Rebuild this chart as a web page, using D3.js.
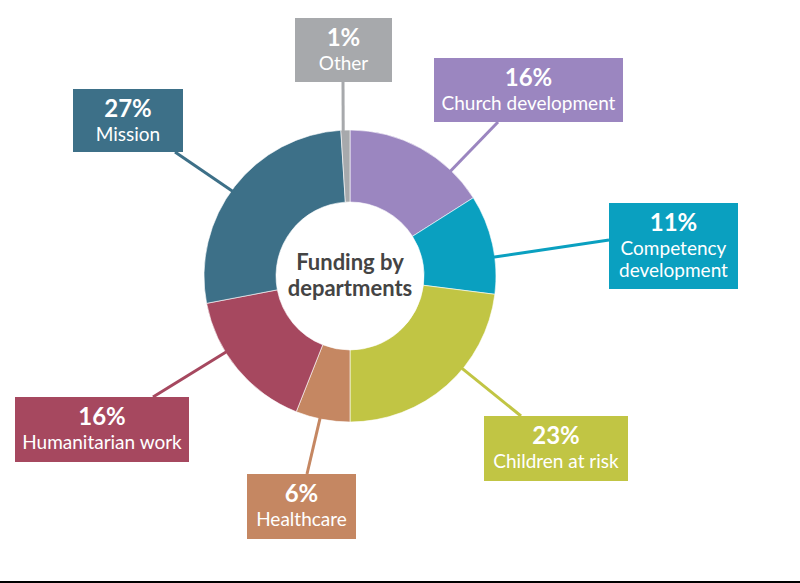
<!DOCTYPE html>
<html lang="en">
	<head>
		<meta charset="utf-8">
		<title>Funding by departments</title>
		<script type="text/javascript" src="https://d3js.org/d3.v7.min.js"></script>
		<style type="text/css">
			body { margin: 0; background: #fff; }
			text { font-family: Lato, "Open Sans", sans-serif; }
		</style>
	</head>
	<body>
		<script type="text/javascript">

			// Data, clockwise from 12 o'clock
			var categories = ["Church development", "Competency development", "Children at risk",
				"Healthcare", "Humanitarian work", "Mission", "Other"];
			var values = [16, 11, 23, 6, 16, 27, 1];
			var colorList = ["#9b86c0", "#0aa0c0", "#c1c544", "#c58762", "#a6485f", "#3d7088", "#a7a9ac"];

			// Label boxes: [x, y, w, h], where the leader hits the box, and where along the slice it starts
			var boxes = [
				[434, 58, 189, 64], [609, 203, 129, 86], [484, 416, 144, 65],
				[247, 474, 109, 65], [15, 397, 174, 65], [73, 89, 110, 63], [295, 18, 97, 64]
			];
			var hooks = [[498, 122], [609, 240], [521, 416], [307, 474], [153, 397], [175, 152], [343, 82]];
			var anchorAt = [0.76, 0.63, 0.39, 0.55, 0.64, 0.48, 0.25];

			//Width and height
			var w = 800;
			var h = 583;
			var cx = 350, cy = 276;
			var outerR = 146, innerR = 74;

			var svg = d3.select("body")
						.append("svg")
						.attr("width", w)
						.attr("height", h);

			var pie = d3.pie().sort(null).value(function(d) { return d; });
			var arcs = pie(values);

			var arc = d3.arc().innerRadius(innerR).outerRadius(outerR);

			var chart = svg.append("g").attr("transform", "translate(" + cx + "," + cy + ")");

			// Leader lines first, so the slices cover their ends
			svg.selectAll("line.leader")
				.data(arcs)
				.enter()
				.append("line")
				.attr("class", "leader")
				.attr("x1", function(d, i) {
					var a = d.startAngle + (d.endAngle - d.startAngle) * anchorAt[i];
					return cx + (outerR - 2) * Math.sin(a);
				})
				.attr("y1", function(d, i) {
					var a = d.startAngle + (d.endAngle - d.startAngle) * anchorAt[i];
					return cy - (outerR - 2) * Math.cos(a);
				})
				.attr("x2", function(d, i) { return hooks[i][0]; })
				.attr("y2", function(d, i) { return hooks[i][1]; })
				.attr("stroke", function(d, i) { return colorList[i]; })
				.attr("stroke-width", 3);

			chart.selectAll("path")
				.data(arcs)
				.enter()
				.append("path")
				.attr("d", arc)
				.attr("fill", function(d, i) { return colorList[i]; })
				.attr("stroke", "#fff")
				.attr("stroke-width", 0.6);

			chart.append("text")
				.attr("text-anchor", "middle")
				.attr("y", -6)
				.attr("fill", "#444")
				.style("font-size", "22px")
				.style("font-weight", "bold")
				.text("Funding by");
			chart.append("text")
				.attr("text-anchor", "middle")
				.attr("y", 20)
				.attr("fill", "#444")
				.style("font-size", "22px")
				.style("font-weight", "bold")
				.text("departments");

			// Label boxes
			var labels = svg.selectAll("g.label")
				.data(arcs)
				.enter()
				.append("g")
				.attr("class", "label")
				.attr("transform", function(d, i) {
					return "translate(" + boxes[i][0] + "," + boxes[i][1] + ")";
				});

			labels.append("rect")
				.attr("width", function(d, i) { return boxes[i][2]; })
				.attr("height", function(d, i) { return boxes[i][3]; })
				.attr("fill", function(d, i) { return colorList[i]; });

			labels.append("text")
				.attr("text-anchor", "middle")
				.attr("x", function(d, i) { return boxes[i][2] / 2; })
				.attr("y", 28)
				.attr("fill", "#fff")
				.style("font-size", "24px")
				.style("font-weight", "bold")
				.text(function(d) { return d.value + "%"; });

			labels.each(function(d, i) {
				var words = categories[i] === "Competency development" ? ["Competency", "development"] : [categories[i]];
				var g = d3.select(this);
				words.forEach(function(line, k) {
					g.append("text")
						.attr("text-anchor", "middle")
						.attr("x", boxes[i][2] / 2)
						.attr("y", 52 + k * 22)
						.attr("fill", "#fff")
						.style("font-size", "19px")
						.text(line);
				});
			});

			// Rule at the bottom edge
			svg.append("line")
				.attr("x1", 0).attr("x2", w)
				.attr("y1", 582).attr("y2", 582)
				.attr("stroke", "#000")
				.attr("stroke-width", 2);

		</script>
	</body>
</html>
